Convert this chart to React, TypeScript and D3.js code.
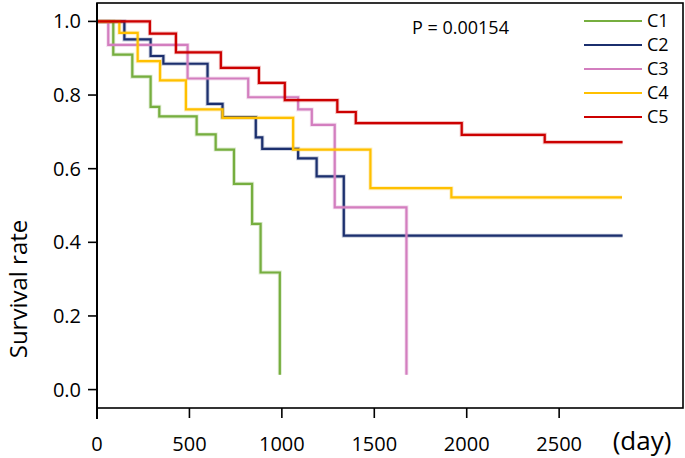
import React from "react";
import * as d3 from "d3";

const seriesNames = ["C1", "C2", "C3", "C4", "C5"];
const seriesColors = ["#76AE3F", "#1B2F6E", "#D37EBF", "#FFC000", "#CC0000"];

const c1Days = [0, 88, 191, 290, 337, 539, 642, 741, 839, 885, 989];
const c1Surv = [1, 0.91, 0.85, 0.768, 0.742, 0.693, 0.652, 0.559, 0.45, 0.318, 0.04];

const c2Days = [0, 148, 290, 359, 598, 679, 859, 894, 1088, 1188, 1335, 2843];
const c2Surv = [1, 0.951, 0.906, 0.885, 0.776, 0.74, 0.685, 0.654, 0.628, 0.579, 0.418, 0.418];

const c3Days = [0, 61, 490, 818, 1088, 1162, 1286, 1674];
const c3Surv = [1, 0.936, 0.845, 0.794, 0.761, 0.719, 0.495, 0.04];

const c4Days = [0, 121, 220, 341, 481, 679, 1061, 1479, 1917, 2840];
const c4Surv = [1, 0.969, 0.892, 0.84, 0.761, 0.738, 0.652, 0.547, 0.522, 0.522];

const c5Days = [0, 286, 427, 670, 876, 1016, 1300, 1400, 1973, 2422, 2843];
const c5Surv = [1, 0.967, 0.916, 0.874, 0.833, 0.786, 0.754, 0.724, 0.692, 0.672, 0.672];

const xTicks = [0, 500, 1000, 1500, 2000, 2500];
const yTicks = [0, 0.2, 0.4, 0.6, 0.8, 1.0];

const pText = "P = 0.00154";
const yTitle = "Survival rate";
const xUnit = "(day)";

const FONT = "'Open Sans', sans-serif";

export default function App() {
  const W = 685, H = 458;
  const left = 97, right = 683, top = 3, bottom = 408;
  const x = d3.scaleLinear().domain([0, 3170]).range([left, right]);
  const y = d3.scaleLinear().domain([-0.05, 1.05]).range([bottom, top]);

  const days = [c1Days, c2Days, c3Days, c4Days, c5Days];
  const survs = [c1Surv, c2Surv, c3Surv, c4Surv, c5Surv];

  const line = d3
    .line<[number, number]>()
    .x((d) => x(d[0]))
    .y((d) => y(d[1]))
    .curve(d3.curveStepAfter);

  const legendY0 = 21;
  const legendStep = 24;

  return (
    <svg
      width={W}
      height={H}
      style={{ position: "absolute", left: 0, top: 0, background: "#fff" }}
      fontFamily={FONT}
    >
      <rect x={0} y={0} width={W} height={H} fill="#fff" />
      {seriesNames.map((name, i) => {
        const pts = days[i].map((d, j) => [d, survs[i][j]] as [number, number]);
        return (
          <g key={name}>
            <path d={line(pts) || ""} fill="none" stroke={seriesColors[i]} strokeOpacity={0.25} strokeWidth={4} />
            <path d={line(pts) || ""} fill="none" stroke={seriesColors[i]} strokeWidth={2.2} />
          </g>
        );
      })}
      <rect x={left} y={top} width={right - left} height={bottom - top} fill="none" stroke="#000" strokeWidth={1.6} />
      <line x1={left} x2={left} y1={top} y2={bottom + 11} stroke="#000" strokeWidth={2} />
      {yTicks.map((t) => (
        <g key={"y" + t}>
          <line x1={left - 9} x2={left} y1={y(t)} y2={y(t)} stroke="#000" strokeWidth={1.6} />
          <text x={81} y={y(t)} dy="0.35em" textAnchor="end" fontSize={20} fill="#000">
            {t.toFixed(1)}
          </text>
        </g>
      ))}
      {xTicks.map((t) => (
        <g key={"x" + t}>
          <line x1={x(t)} x2={x(t)} y1={bottom} y2={bottom + 10} stroke="#000" strokeWidth={1.6} />
          <text x={x(t)} y={451} textAnchor="middle" fontSize={20} fill="#000">
            {t}
          </text>
        </g>
      ))}
      <text x={642} y={450} textAnchor="middle" fontSize={26} fill="#000">
        {xUnit}
      </text>
      <text
        transform={`translate(27,${289}) rotate(-90)`}
        textAnchor="middle"
        fontSize={24}
        fill="#000"
      >
        {yTitle}
      </text>
      <text x={412} y={34} fontSize={18} fill="#000">
        {pText}
      </text>
      {seriesNames.map((name, i) => (
        <g key={"lg" + name}>
          <line
            x1={584}
            x2={642}
            y1={legendY0 + i * legendStep}
            y2={legendY0 + i * legendStep}
            stroke={seriesColors[i]}
            strokeWidth={2.2}
          />
          <text x={647} y={legendY0 + i * legendStep} dy="0.35em" fontSize={18} fill="#000">
            {name}
          </text>
        </g>
      ))}
    </svg>
  );
}
